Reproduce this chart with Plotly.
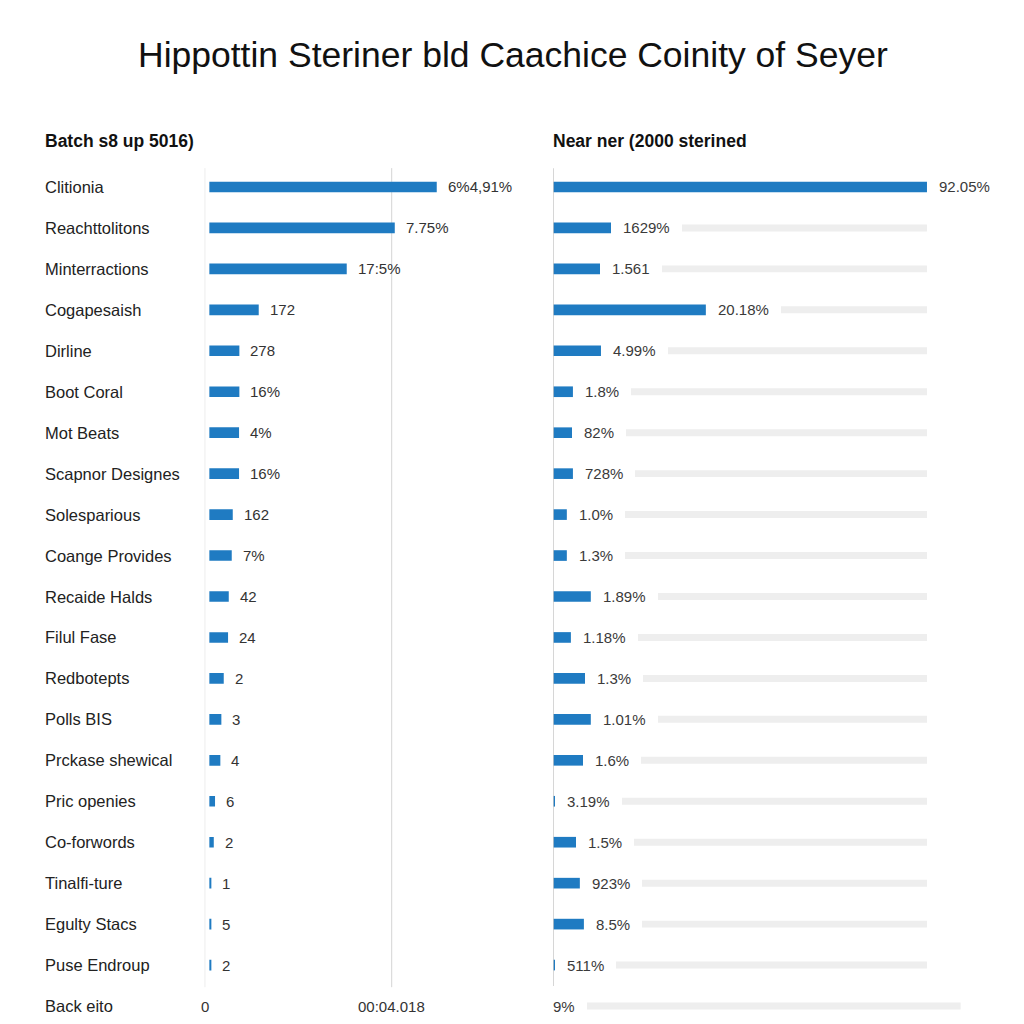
import plotly.graph_objects as go

# ---------------- data ----------------
title_text = "Hippottin Steriner bld Caachice Coinity of Seyer"
left_title = "Batch s8 up 5016)"
right_title = "Near ner (2000 sterined"

categories = [
    "Clitionia", "Reachttolitons", "Minterractions", "Cogapesaish", "Dirline",
    "Boot Coral", "Mot Beats", "Scapnor Designes", "Solesparious", "Coange Provides",
    "Recaide Halds", "Filul Fase", "Redbotepts", "Polls BIS", "Prckase shewical",
    "Pric openies", "Co-forwords", "Tinalfi-ture", "Egulty Stacs", "Puse Endroup",
]
footer_category = "Back eito"

left_values = [4.886, 3.984, 2.952, 1.061, 0.645, 0.645, 0.638, 0.638, 0.503, 0.481,
               0.417, 0.402, 0.309, 0.258, 0.236, 0.122, 0.095, 0.043, 0.043, 0.043]
left_labels = ["6%4,91%", "7.75%", "17:5%", "172", "278", "16%", "4%", "16%", "162", "7%",
               "42", "24", "2", "3", "4", "6", "2", "1", "5", "2"]
left_tick_vals = [0, 4.018]
left_tick_text = ["0", "00:04.018"]

right_values = [92.0, 14.3, 11.6, 37.6, 11.8, 4.9, 4.7, 4.9, 3.4, 3.4,
                9.3, 4.4, 7.9, 9.3, 7.4, 0.6, 5.7, 6.6, 7.6, 0.5]
right_labels = ["92.05%", "1629%", "1.561", "20.18%", "4.99%", "1.8%", "82%", "728%", "1.0%", "1.3%",
                "1.89%", "1.18%", "1.3%", "1.01%", "1.6%", "3.19%", "1.5%", "923%", "8.5%", "511%"]
right_footer_label = "9%"

# ---------------- styling ----------------
FONT = "Liberation Sans, Arial, Helvetica, sans-serif"
BLUE = "#1f7bc2"
TRACK = "#eeeeee"
OFF = 8                      # page body margin
W = H = 1024 - OFF


def px(v):
    return v - OFF


n = len(categories)
rows = list(range(n))
all_rows = list(range(n + 1))

left_base = 0.1
left_px_per_unit = 187.0 / 4.018
right_px_per_unit = 4.065
left_x0 = px(204.7)
right_x0 = px(553.0)
left_x1 = px(520)

track_max = max(right_values)
track_vals = [track_max] * n + [track_max * 1.09]

fig = go.Figure()

fig.add_trace(go.Bar(
    orientation="h", y=rows, x=left_values, base=left_base, width=0.26,
    marker=dict(color=BLUE, line=dict(width=0)), xaxis="x", yaxis="y",
    hoverinfo="skip", showlegend=False,
))
fig.add_trace(go.Bar(
    orientation="h", y=all_rows, x=track_vals, base=0, width=0.17,
    marker=dict(color=TRACK, line=dict(width=0)), xaxis="x2", yaxis="y2",
    hoverinfo="skip", showlegend=False,
))
fig.add_trace(go.Bar(
    orientation="h", y=rows, x=right_values, base=0, width=0.26,
    marker=dict(color=BLUE, line=dict(width=0)), xaxis="x2", yaxis="y2",
    hoverinfo="skip", showlegend=False,
))

annotations = []
annotations.append(dict(text=title_text, x=px(513) / W, y=1 - px(55) / H, xref="paper", yref="paper",
                        xanchor="center", yanchor="middle", showarrow=False,
                        font=dict(family=FONT, size=35.5, color="#111111")))
annotations.append(dict(text="<b>" + left_title + "</b>", x=px(43) / W, y=1 - px(141) / H, xref="paper",
                        yref="paper", xanchor="left", yanchor="middle", showarrow=False,
                        font=dict(family=FONT, size=17.5, color="#111111")))
annotations.append(dict(text="<b>" + right_title + "</b>", x=px(551) / W, y=1 - px(141) / H, xref="paper",
                        yref="paper", xanchor="left", yanchor="middle", showarrow=False,
                        font=dict(family=FONT, size=17.5, color="#111111")))

for i, c in enumerate(categories + [footer_category]):
    annotations.append(dict(text=c, x=px(43) / W, y=i, xref="paper", yref="y",
                            xanchor="left", yanchor="middle", showarrow=False,
                            font=dict(family=FONT, size=16.5, color="#222222")))

for i, (v, t) in enumerate(zip(left_values, left_labels)):
    annotations.append(dict(text=t, x=left_base + v, y=i, xref="x", yref="y",
                            xanchor="left", yanchor="middle", xshift=9, showarrow=False,
                            font=dict(family=FONT, size=15, color="#333333")))

for v, t in zip(left_tick_vals, left_tick_text):
    annotations.append(dict(text=t, x=v, y=n, xref="x", yref="y",
                            xanchor="center", yanchor="middle", showarrow=False,
                            font=dict(family=FONT, size=15, color="#333333")))

for i, (v, t) in enumerate(zip(right_values, right_labels)):
    annotations.append(dict(text=t, x=v, y=i, xref="x2", yref="y2",
                            xanchor="left", yanchor="middle", showarrow=False,
                            bgcolor="white", borderpad=12, borderwidth=0,
                            font=dict(family=FONT, size=15, color="#3a3a3a")))
annotations.append(dict(text=right_footer_label, x=0, y=n, xref="x2", yref="y2",
                        xanchor="left", yanchor="middle", xshift=-12, showarrow=False,
                        bgcolor="white", borderpad=12, borderwidth=0,
                        font=dict(family=FONT, size=15, color="#3a3a3a")))

shapes = []
for v in left_tick_vals:
    shapes.append(dict(type="line", xref="x", yref="y", x0=v, x1=v, y0=-0.46, y1=19.54,
                       line=dict(color="#d4d4d4", width=1), layer="below"))
shapes.append(dict(type="line", xref="x2", yref="y2", x0=0, x1=0, y0=-0.46, y1=19.6,
                   line=dict(color="#c8c8c8", width=1.5), layer="above"))

y_top_px, y_bot_px = px(166.5), px(1022.4)
ydom = [1 - y_bot_px / H, 1 - y_top_px / H]
yrange = [20.4, -0.5]

fig.update_layout(
    width=W, height=H,
    margin=dict(l=0, r=0, t=0, b=0),
    paper_bgcolor="white", plot_bgcolor="rgba(0,0,0,0)",
    barmode="overlay",
    showlegend=False,
    xaxis=dict(domain=[left_x0 / W, left_x1 / W], range=[0, (left_x1 - left_x0) / left_px_per_unit],
               visible=False, fixedrange=True),
    xaxis2=dict(domain=[right_x0 / W, 1.0], range=[0, (W - right_x0) / right_px_per_unit],
                visible=False, fixedrange=True),
    yaxis=dict(domain=ydom, range=yrange, visible=False, fixedrange=True),
    yaxis2=dict(domain=ydom, range=yrange, visible=False, fixedrange=True, anchor="x2"),
    annotations=annotations,
    shapes=shapes,
)

fig.write_html("out.html")
